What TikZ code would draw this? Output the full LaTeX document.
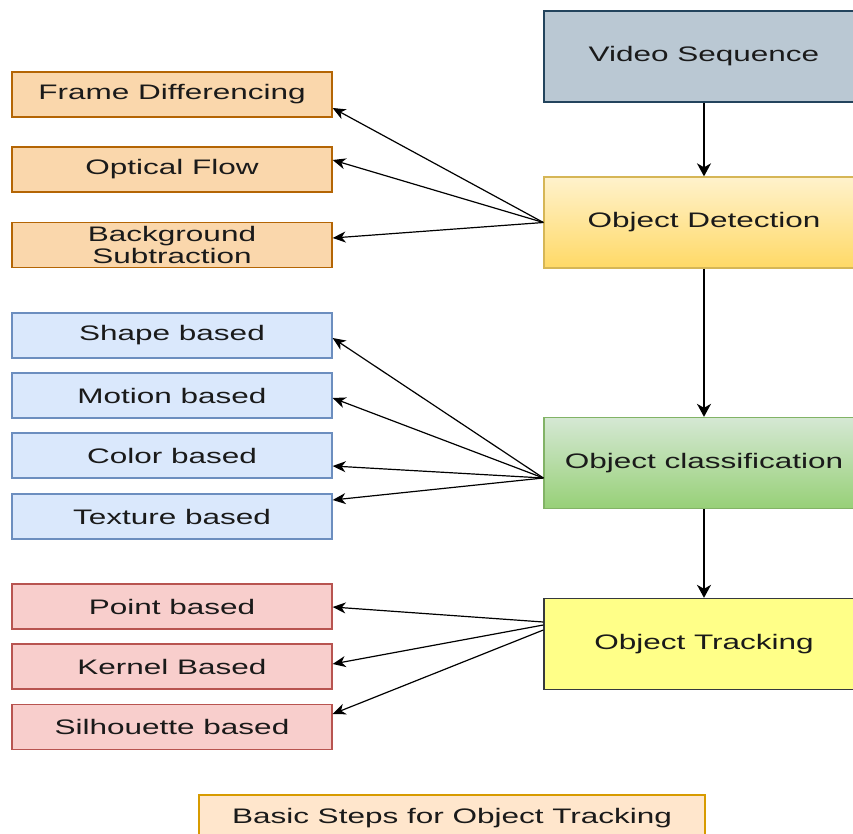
\documentclass[tikz,border=0pt]{standalone}
\usepackage{fontspec}
\setmainfont{Liberation Sans}[FakeStretch=1.5]
\usetikzlibrary{arrows.meta}
\definecolor{txt}{HTML}{1A1A1A}
\definecolor{vidfill}{HTML}{BAC8D3}
\definecolor{vidline}{HTML}{23445D}
\definecolor{dettop}{HTML}{FFF2CC}
\definecolor{detbot}{HTML}{FFD966}
\definecolor{detline}{HTML}{D6B656}
\definecolor{clstop}{HTML}{D5E8D4}
\definecolor{clsbot}{HTML}{97D077}
\definecolor{clsline}{HTML}{82B366}
\definecolor{trkfill}{HTML}{FFFF88}
\definecolor{trkline}{HTML}{36393D}
\definecolor{ofill}{HTML}{FAD7AC}
\definecolor{oline}{HTML}{B46504}
\definecolor{bfill}{HTML}{DAE8FC}
\definecolor{bline}{HTML}{6C8EBF}
\definecolor{rfill}{HTML}{F8CECC}
\definecolor{rline}{HTML}{B85450}
\definecolor{capfill}{HTML}{FFE6CC}
\definecolor{capline}{HTML}{D79B00}
\tikzset{%
  stage/.style = {rectangle,draw,line width=1.3pt,minimum width=320pt,
        minimum height=91pt,inner sep=0pt,text=txt},
  leaf/.style = {rectangle,draw,line width=1.3pt,minimum width=320pt,
        minimum height=45pt,inner sep=0pt,text=txt,align=center},
  obox/.style = {leaf,fill=ofill,draw=oline},
  bbox/.style = {leaf,fill=bfill,draw=bline},
  rbox/.style = {leaf,fill=rfill,draw=rline},
  flowarrow/.style = {-{Stealth[length=13pt,width=14pt,inset=4pt]},line width=1.9pt},
  branch/.style = {-{Stealth[length=13pt,width=11pt,inset=4pt]},line width=1.2pt}
}

\begin{document}
\begin{tikzpicture}[x=1pt,y=-1pt,
        every node/.style={font=\fontsize{21}{22}\selectfont}]
    \useasboundingbox (0,0) rectangle (853,834);
    \clip (0,0) rectangle (853,834);
    % main steps
    \node[stage,fill=vidfill,draw=vidline] (vid) at (704,56.5) {Video Sequence};
    \node[stage,top color=dettop,bottom color=detbot,
        draw=detline] (det) at (704,222.5) {Object Detection};
    \node[stage,top color=clstop,bottom color=clsbot,
        draw=clsline] (cls) at (704,463) {Object classification};
    \node[stage,fill=trkfill,draw=trkline] (trk) at (704,644) {Object Tracking};
    % detection methods
    \node[obox] (fd) at (172,94.5) {Frame Differencing};
    \node[obox] (of) at (172,169.5) {Optical Flow};
    \node[obox] (bs) at (172,245) {Background\\Subtraction};
    % classification methods
    \node[bbox] (shp) at (172,335.5) {Shape based};
    \node[bbox] (mot) at (172,395.5) {Motion based};
    \node[bbox] (col) at (172,455.5) {Color based};
    \node[bbox] (tex) at (172,516.5) {Texture based};
    % tracking methods
    \node[rbox] (pt) at (172,606.5) {Point based};
    \node[rbox] (ker) at (172,666.5) {Kernel Based};
    \node[rbox] (sil) at (172,727) {Silhouette based};
    \node[rectangle,draw=capline,fill=capfill,line width=1.3pt,text=txt,
        minimum width=506pt,minimum height=46pt] (cap) at (452,818)
        {Basic Steps for Object Tracking};

    \draw[flowarrow] (vid) -- (det);
    \draw[flowarrow] (det) -- (cls);
    \draw[flowarrow] (cls) -- (trk);

    \draw[branch] (det.west) -- ([yshift=-13.5pt]fd.east);
    \draw[branch] (det.west) -- ([yshift=9.5pt]of.east);
    \draw[branch] (det.west) -- ([yshift=7pt]bs.east);

    \draw[branch] ([yshift=-15pt]cls.west) -- ([yshift=-2.5pt]shp.east);
    \draw[branch] ([yshift=-15pt]cls.west) -- ([yshift=-2.5pt]mot.east);
    \draw[branch] ([yshift=-15pt]cls.west) -- ([yshift=-10.5pt]col.east);
    \draw[branch] ([yshift=-15pt]cls.west) -- ([yshift=16.5pt]tex.east);

    \draw[branch] ([yshift=22pt]trk.west) -- ([yshift=-0.5pt]pt.east);
    \draw[branch] ([yshift=19pt]trk.west) -- ([yshift=2.5pt]ker.east);
    \draw[branch] ([yshift=14pt]trk.west) -- ([yshift=13pt]sil.east);
\end{tikzpicture}
\end{document}
